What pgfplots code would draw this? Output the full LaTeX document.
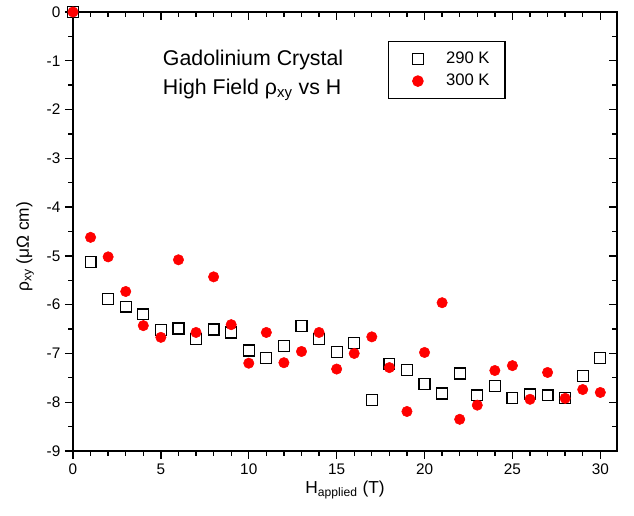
\documentclass[border=0pt]{standalone}
\usepackage{pgfplots}
\pgfplotsset{compat=1.18}
\usepackage{fontspec}
\setmainfont{Liberation Sans}

% 290 K (open squares)
\pgfplotstableread{
H rho
0 0
1 -5.13
2 -5.88
3 -6.04
4 -6.20
5 -6.52
6 -6.49
7 -6.70
8 -6.51
9 -6.57
10 -6.94
11 -7.09
12 -6.84
13 -6.43
14 -6.70
15 -6.97
16 -6.79
17 -7.95
18 -7.21
19 -7.34
20 -7.63
21 -7.82
22 -7.41
23 -7.86
24 -7.67
25 -7.91
26 -7.84
27 -7.86
28 -7.92
29 -7.46
30 -7.10
}\lowT

% 300 K (red dots)
\pgfplotstableread{
H rho
0 0
1 -4.62
2 -5.02
3 -5.73
4 -6.43
5 -6.67
6 -5.08
7 -6.57
8 -5.43
9 -6.41
10 -7.20
11 -6.57
12 -7.19
13 -6.96
14 -6.57
15 -7.32
16 -7.00
17 -6.66
18 -7.29
19 -8.19
20 -6.98
21 -5.96
22 -8.35
23 -8.06
24 -7.35
25 -7.25
26 -7.94
27 -7.39
28 -7.92
29 -7.74
30 -7.80
}\highT

\pgfplotsset{
    base/.style={
        scale only axis,
        width=408pt,
        height=329.25pt,
        xmin=0, xmax=30.95,
        ymin=-9, ymax=0,
        xtick={0,5,...,30},
        ytick={-9,-8,...,0},
        minor x tick num=4,
        minor y tick num=1,
        major tick length=6pt,
        minor tick length=3.5pt,
        every tick/.style={line width=1pt, black},
    },
}

\begin{document}
\begin{tikzpicture}
% ticks on right/top, pointing inward
\begin{axis}[
    base,
    axis line style={draw=none},
    tick pos=right,
    tick align=inside,
    xticklabels={}, yticklabels={},
]
\addplot[draw=none] coordinates {(0,0)};
\end{axis}

\begin{axis}[
    base,
    name=ax,
    clip=false,
    axis line style={line width=1.3pt},
    tick pos=left,
    tick align=outside,
    tick label style={font=\fontsize{11.5}{12}\selectfont},
    /pgf/number format/assume math mode=true,
    xlabel={H\textsubscript{applied} (T)},
    ylabel={ρ\textsubscript{xy} (μΩ cm)},
    label style={font=\fontsize{13}{15}\selectfont},
    xlabel style={at={(axis description cs:0.5,-0.089)}, anchor=center},
    ylabel style={at={(axis description cs:-0.088,0.465)}, anchor=center},
    legend style={
        at={(0.579,0.934)}, anchor=north west,
        draw=black, line width=0.9pt,
        font=\fontsize{12.5}{15}\selectfont,
        inner xsep=9.5pt, inner ysep=5.8pt,
        row sep=2.5pt,
        /tikz/every odd column/.append style={column sep=15pt},
    },
    legend image code/.code={
        \path[draw=none, fill=none] (-12.5pt,-1pt) rectangle (0pt,1pt);
        \draw[#1] plot coordinates {(0pt,0pt)};
    },
    legend cell align=left,
]
\coordinate (bl) at (rel axis cs:0,0);
\coordinate (tr) at (rel axis cs:1,1);

\addplot[only marks, mark=square, mark size=4.1pt,
    mark options={line width=0.9pt, draw=black}]
    table[x=H, y=rho] {\lowT};
\addlegendentry{290 K}

\addplot[only marks, mark=*, mark size=3.9pt,
    mark options={draw=red, fill=red}]
    table[x=H, y=rho] {\highT};
\addlegendentry{300 K}

\node[anchor=west, font=\fontsize{16}{18}\selectfont]
    at (axis cs:4.85,-0.98) {Gadolinium Crystal};
\node[anchor=west, font=\fontsize{16}{18}\selectfont]
    at (axis cs:4.85,-1.60) {High Field ρ\textsubscript{xy} vs H};
\end{axis}

\pgfresetboundingbox
\path ([shift={(-54.75pt,-48.75pt)}]bl) rectangle ([shift={(12.75pt,9pt)}]tr);
\end{tikzpicture}
\end{document}
